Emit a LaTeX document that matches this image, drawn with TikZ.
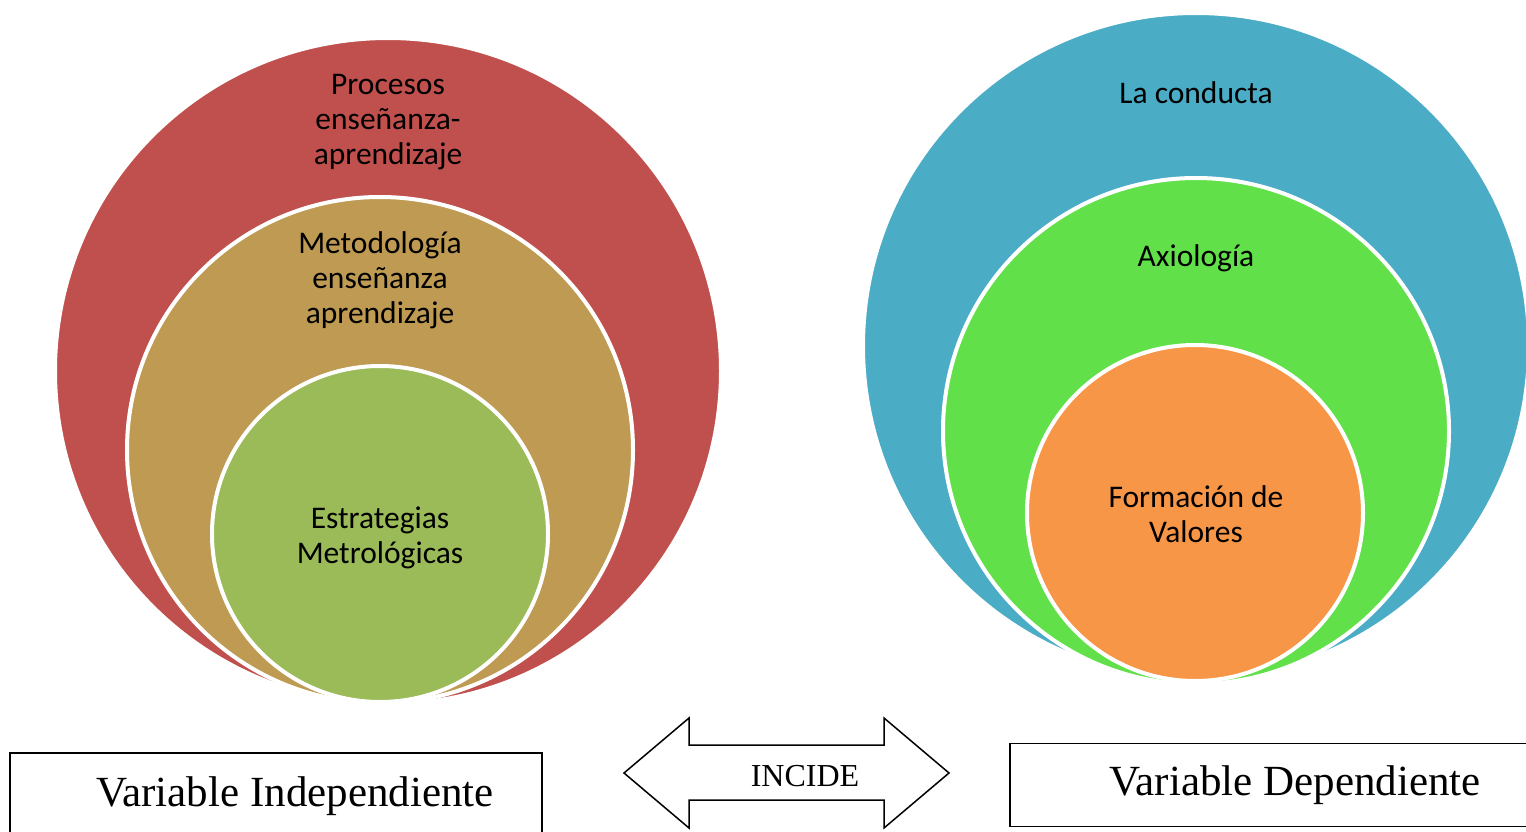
\documentclass[tikz,border=0pt]{standalone}
\usepackage{fontspec}
\setmainfont{Liberation Serif}
\newfontfamily\calibri{Carlito}
\usepackage{xcolor}
\usetikzlibrary{positioning,calc}

\definecolor{rojo}{HTML}{C0504D}
\definecolor{ocre}{HTML}{BE9A52}
\definecolor{oliva}{HTML}{9BBB59}
\definecolor{celeste}{HTML}{4BACC6}
\definecolor{verde}{HTML}{62E04A}
\definecolor{naranja}{HTML}{F79646}

\begin{document}
\begin{tikzpicture}[x=1pt, y=-1pt,
    ring/.style={circle, draw=white, line width=4pt, inner sep=0pt},
    label/.style={align=center, font=\calibri\fontsize{31.5}{35}\selectfont},
    varbox/.style={draw, line width=1.5pt, font=\fontsize{43}{47}\selectfont, inner sep=0pt}]
    \useasboundingbox (0,0) rectangle (1526,832);

    % Variable independiente
    \node[ring, fill=rojo, minimum size=666pt] (procesos) at (388,371) {};
    \node[ring, fill=ocre, minimum size=506pt] (metodo) at (380,450) {};
    \node[ring, fill=oliva, minimum size=336pt] (estrat) at (380,534) {};
    \node[label] (procesosT) at (388,122) {Procesos\\enseñanza-\\aprendizaje};
    \node[label] (metodoT) at (380,280) {Metodología\\enseñanza\\aprendizaje};
    \node[label] (estratT) at (380,538) {Estrategias\\Metrológicas};

    % Variable dependiente
    \node[ring, fill=celeste, minimum size=666pt] (conducta) at (1196,346) {};
    \node[ring, fill=verde, minimum size=506pt] (axio) at (1196,431) {};
    \node[ring, fill=naranja, minimum size=336pt] (valores) at (1195,513) {};
    \node[label] (conductaT) at (1196,93) {La conducta};
    \node[label] (axioT) at (1196,258) {Axiología};
    \node[label] (valoresT) at (1196,514) {Formación de\\Valores};

    % Cuadros
    \node[varbox, minimum width=532pt, minimum height=90pt] (vi) at (276,798)
        {\hspace*{38pt}\raisebox{12pt}{Variable Independiente}};
    \node[varbox, minimum width=530pt, minimum height=83pt] (vd) at (1275,785)
        {\raisebox{7pt}{Variable Dependiente}\hspace*{-40pt}};

    % Flecha doble
    \draw[line width=1.5pt, fill=white] (624,773) -- (689,718) -- (689,745) -- (884,745)
        -- (884,718) -- (949,773) -- (884,828) -- (884,800) -- (689,800) -- (689,828) -- cycle;
    \node[font=\fontsize{32}{36}\selectfont] (incide) at (805,776) {INCIDE};
\end{tikzpicture}
\end{document}
